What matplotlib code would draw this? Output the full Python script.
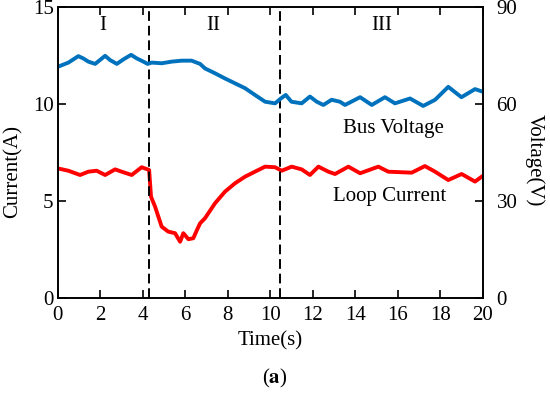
import numpy as np
import matplotlib
matplotlib.use('Agg')
from matplotlib import pyplot as plt

plt.rcParams['font.family'] = ['Liberation Serif', 'DejaVu Serif']
plt.rcParams['mathtext.fontset'] = 'stix'

# bus voltage (right axis, V)
t_bus = [0, 0.5, 0.97, 1.2, 1.44, 1.76, 2.23, 2.46, 2.78, 3.09, 3.45, 3.72, 4.03, 4.23,
         4.42, 4.9, 5.36, 5.84, 6.3, 6.7, 6.93, 7.4, 7.87, 8.34, 8.81, 9.28, 9.76, 10.23,
         10.5, 10.73, 11.0, 11.48, 11.87, 12.19, 12.5, 12.89, 13.28, 13.52, 14.23, 14.78,
         15.4, 15.87, 16.58, 17.2, 17.76, 18.38, 19.0, 19.64, 20.0]
v_bus = [71.5, 72.8, 74.8, 74.1, 73.1, 72.4, 74.9, 73.6, 72.4, 73.8, 75.2, 74.1, 73.1, 72.4,
         72.8, 72.6, 73.1, 73.4, 73.4, 72.4, 71.0, 69.5, 67.9, 66.4, 64.9, 62.8, 60.7, 60.2,
         61.7, 62.8, 60.7, 60.2, 62.3, 60.7, 59.7, 61.3, 60.7, 59.7, 62.1, 59.7,
         62.1, 60.2, 61.7, 59.4, 61.3, 65.3, 62.1, 64.6, 63.8]

# loop current (left axis, A)
t_loop = [0, 0.5, 1.05, 1.44, 1.83, 2.23, 2.7, 3.01, 3.48, 3.95, 4.3, 4.39, 4.58, 4.89,
          5.2, 5.52, 5.76, 5.91, 6.15, 6.38, 6.55, 6.7, 6.93, 7.4, 7.87, 8.34, 8.81, 9.28,
          9.76, 10.23, 10.54, 11.01, 11.48, 11.87, 12.27, 12.74, 13.05, 13.68, 14.23,
          15.09, 15.56, 16.66, 17.28, 17.76, 18.38, 19.01, 19.64, 20.0]
i_loop = [6.68, 6.56, 6.34, 6.51, 6.56, 6.34, 6.63, 6.51, 6.34, 6.74, 6.6, 5.22, 4.71, 3.68,
          3.42, 3.34, 2.9, 3.34, 3.03, 3.08, 3.5, 3.85, 4.11, 4.88, 5.48, 5.91, 6.25, 6.51,
          6.77, 6.74, 6.56, 6.77, 6.63, 6.34, 6.77, 6.51, 6.39, 6.77, 6.43,
          6.77, 6.51, 6.46, 6.8, 6.51, 6.08, 6.39, 6.0, 6.29]

stage_t = [4.31, 10.46]
stage_names = ['I', 'II', 'III']
stage_pos = [2.13, 7.3, 15.25]

fig = plt.figure(figsize=(5.5, 3.95), dpi=100)
ax = fig.add_axes([0.105, 0.2456, 0.7726, 0.7367])
ax2 = ax.twinx()

ax.plot(t_loop, i_loop, color='#ff0000', lw=2.8)
ax2.plot(t_bus, v_bus, color='#0072bd', lw=2.8)

for s in stage_t:
    ax.axvline(s, color='black', ls=(0, (5, 2.5)), lw=1.4)

for name, p in zip(stage_names, stage_pos):
    ax.text(p, 14.05, name, ha='center', va='center', fontsize=15)

ax.text(15.8, 8.76, 'Bus Voltage', ha='center', va='center', fontsize=15)
ax.text(15.6, 5.22, 'Loop Current', ha='center', va='center', fontsize=15)

ax.set_xlim(0, 20)
ax.set_ylim(0, 15)
ax2.set_ylim(0, 90)
ax.set_xticks(np.arange(0, 21, 2))
ax.set_yticks([0, 5, 10, 15])
ax2.set_yticks([0, 30, 60, 90])

ax.tick_params(direction='in', length=6, width=1.2, labelsize=15, top=True)
ax.tick_params(axis='x', pad=6)
ax.tick_params(axis='y', pad=3)
ax2.tick_params(direction='in', length=6, width=1.2, labelsize=15, pad=10)
for a in (ax, ax2):
    for sp in a.spines.values():
        sp.set_linewidth(1.2)

ax.set_xlabel('Time(s)', fontsize=15)
ax.xaxis.set_label_coords(0.5, -0.113)
ax.set_ylabel('Current(A)', fontsize=15)
ax.yaxis.set_label_coords(-0.083, 0.436)
ax2.set_ylabel('Voltage(V)', fontsize=15, rotation=270, va='bottom')
ax2.yaxis.set_label_coords(1.1, 0.474)

fig.text(0.5, 0.043, r'($\mathbf{a}$)', ha='center', va='center', fontsize=15)

fig.savefig('out.png', dpi=100)
